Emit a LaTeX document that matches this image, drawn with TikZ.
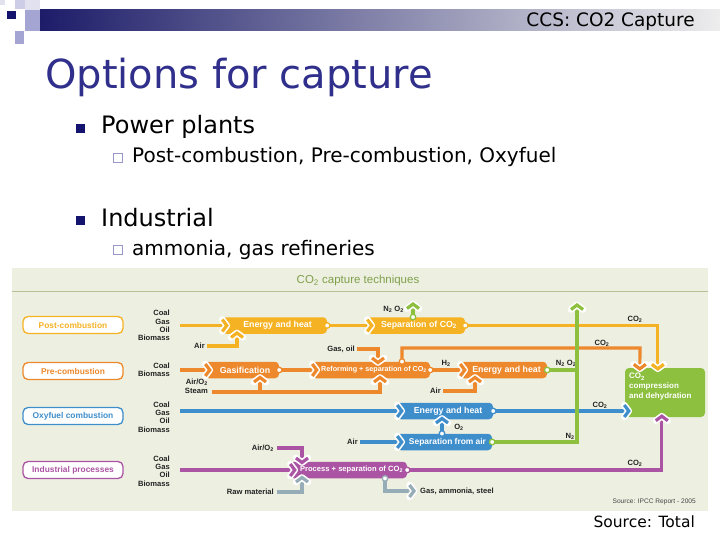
\documentclass[tikz,border=0pt]{standalone}
\usepackage{fontspec}
\setmainfont{DejaVu Sans}
\newfontfamily\dfont{Liberation Sans}
\usetikzlibrary{calc}
\definecolor{cyel}{RGB}{245,178,35}
\definecolor{corg}{RGB}{237,137,44}
\definecolor{cblu}{RGB}{62,142,204}
\definecolor{cpur}{RGB}{172,84,164}
\definecolor{cgrn}{RGB}{141,192,62}
\definecolor{cgry}{RGB}{150,172,182}
\definecolor{dbg}{RGB}{237,240,225}
\definecolor{hdrc}{RGB}{128,160,75}
\definecolor{rulec}{RGB}{185,192,150}
\definecolor{labc}{RGB}{35,35,35}
\definecolor{titlec}{RGB}{48,48,140}
\definecolor{navyb}{RGB}{20,20,110}
\definecolor{subb}{RGB}{150,150,200}
\definecolor{barl}{RGB}{28,28,105}
\definecolor{sqa}{RGB}{205,205,232}
\definecolor{sqb}{RGB}{165,165,212}
\definecolor{sqc}{RGB}{225,225,240}
\newcommand\chev[3]{%
  \begin{scope}[shift={#2},rotate=#3]
    \draw[white,line width=6.5pt,line cap=round,line join=round] (-4.5,-6)--(0,0)--(-4.5,6);
    \draw[#1,line width=3.2pt,line join=miter] (-4.5,-6)--(0,0)--(-4.5,6);
  \end{scope}}
\begin{document}
\begin{tikzpicture}[x=1pt,y=-1pt,
  lbl/.style={font=\dfont\bfseries\fontsize{7.6}{8.3}\selectfont,text=labc,inner sep=0pt},
  optbox/.style={draw=#1,text=#1,fill=white,rounded corners=5pt,line width=1.3pt,minimum width=100pt,minimum height=17pt,inner sep=0pt,font=\dfont\bfseries\fontsize{8.4}{9}\selectfont},
  procbox/.style={fill=#1,text=white,rounded corners=4pt,minimum height=16.5pt,inner sep=0pt,font=\dfont\bfseries\fontsize{8.8}{9}\selectfont,execute at begin node={\hspace*{6pt}}},
  flow/.style={draw=#1,line width=3.2pt},
  port/.style={circle,draw=#1,fill=white,line width=1.3pt,minimum size=5.5pt,inner sep=0pt},
  slide/.style={anchor=base west,inner sep=0pt}]
\useasboundingbox (0,0) rectangle (720,540);
\fill[white] (0,0) rectangle (720,540);
% header decoration
\shade[left color=barl,right color=white!93!black] (40,10) rectangle (720,31);
\fill[sqc] (0,0) rectangle (5,5);
\fill[sqa] (15,0) rectangle (25,9);
\fill[sqc] (25,0) rectangle (40,10);
\fill[sqb] (25,10) rectangle (40,31);
\fill[sqb] (15,31) rectangle (24,44);
\fill[navyb] (7,11) rectangle (16,19);
\node[anchor=base east,inner sep=0pt,font=\fontsize{18.5}{20}\selectfont] (hdr) at (695,27) {CCS: CO2 Capture};
% title and bullets
\node[slide,text=titlec,font=\fontsize{40}{40}\selectfont] (title) at (45,89) {Options for capture};
\fill[navyb] (76,124) rectangle (85,133);
\node[slide,font=\fontsize{24}{26}\selectfont] (b1) at (101,134) {Power plants};
\draw[subb,line width=1pt] (113,153.5) rectangle (122,162.5);
\node[slide,font=\fontsize{20}{22}\selectfont] (b1a) at (132,163) {Post-combustion, Pre-combustion, Oxyfuel};
\fill[navyb] (76,216) rectangle (85,225);
\node[slide,font=\fontsize{24}{26}\selectfont] (b2) at (101,226) {Industrial};
\draw[subb,line width=1pt] (113,245.5) rectangle (122,254.5);
\node[slide,font=\fontsize{20}{22}\selectfont] (b2a) at (132,255) {ammonia, gas refineries};
% diagram background
\fill[dbg] (12,268) rectangle (708,511);
\node[font=\dfont\fontsize{11.5}{12}\selectfont,text=hdrc] (dh) at (358,281) {CO\textsubscript{2} capture techniques};
\draw[rulec,line width=0.8pt] (12,291) -- (708,291);
% option boxes
\node[optbox=cyel] (postc) at (73,325) {Post-combustion};
\node[optbox=corg] (prec) at (73,371) {Pre-combustion};
\node[optbox=cblu] (oxyc) at (73,416) {Oxyfuel combustion};
\node[optbox=cpur] (indc) at (73,470) {Industrial processes};
% fuel labels
\node[lbl,align=right,anchor=east] (fP) at (170,325.5) {Coal\\Gas\\Oil\\Biomass};
\node[lbl,align=right,anchor=east] (fR) at (170,370) {Coal\\Biomass};
\node[lbl,align=right,anchor=east] (fO) at (170,417) {Coal\\Gas\\Oil\\Biomass};
\node[lbl,align=right,anchor=east] (fI) at (170,471) {Coal\\Gas\\Oil\\Biomass};
% process boxes
\node[procbox=cyel,minimum width=105pt] (eh1) at (274.5,325.5) {Energy and heat};
\node[procbox=cyel,minimum width=98pt] (sep1) at (416,325.5) {Separation of CO\textsubscript{2}};
\node[procbox=corg,minimum width=74pt] (gas) at (242,370) {Gasification};
\node[procbox=corg,minimum width=118pt,font=\dfont\bfseries\fontsize{7.2}{9}\selectfont] (ref) at (371,370) {Reforming + separation of CO\textsubscript{2}};
\node[procbox=corg,minimum width=87pt] (eh2) at (503.5,370) {Energy and heat};
\node[procbox=cblu,minimum width=96pt] (eh3) at (445,411) {Energy and heat};
\node[procbox=cblu,minimum width=95pt,font=\dfont\bfseries\fontsize{8.4}{9}\selectfont] (sepair) at (444.5,442) {Separation from air};
\node[procbox=cpur,minimum width=117pt,font=\dfont\bfseries\fontsize{7.6}{9}\selectfont] (proc) at (348.5,470) {Process + separation of CO\textsubscript{2}};
\node[fill=cgrn,rounded corners=4pt,minimum width=80pt,minimum height=49pt,inner sep=0pt] (comp) at (665,392.5) {};
\node[anchor=north west,text=white,align=left,inner sep=0pt,font=\dfont\bfseries\fontsize{8}{10}\selectfont] (compt) at (629,373) {CO\textsubscript{2}\\compression\\and dehydration};
% small labels
\node[lbl,anchor=east] (aP) at (205,346) {Air};
\node[lbl,align=right,anchor=north east] (aR) at (208,379) {Air/O\textsubscript{2}\\Steam};
\coordinate (aRs) at (212,392);
\node[lbl,anchor=east] (go) at (355,349) {Gas, oil};
\node[lbl] (h2) at (446,363) {H\textsubscript{2}};
\node[lbl,anchor=east] (aE2) at (441,391) {Air};
\node[lbl,anchor=east] (n2o2a) at (404,309) {N\textsubscript{2} O\textsubscript{2}};
\node[lbl] (n2o2b) at (566,363) {N\textsubscript{2} O\textsubscript{2}};
\node[lbl] (co2a) at (635,319) {CO\textsubscript{2}};
\node[lbl] (co2b) at (602,343) {CO\textsubscript{2}};
\node[lbl] (co2c) at (600,405) {CO\textsubscript{2}};
\node[lbl] (co2d) at (635,463) {CO\textsubscript{2}};
\node[lbl] (o2) at (459,427) {O\textsubscript{2}};
\node[lbl] (n2) at (570,436) {N\textsubscript{2}};
\node[lbl,anchor=east] (aS) at (358,442) {Air};
\node[lbl,anchor=east] (aI) at (274,448) {Air/O\textsubscript{2}};
\node[lbl,anchor=east] (rm) at (274,492) {Raw material};
\node[lbl,anchor=west] (gas2) at (420,491) {Gas, ammonia, steel};
\node[anchor=east,inner sep=0pt,font=\dfont\fontsize{6.6}{7}\selectfont,text=labc!85] (src1) at (696,502) {Source: IPCC Report - 2005};
\coordinate (oc) at (640,348);
\coordinate (gtop) at (577,305);
\coordinate (gbot) at (577,442);
% post-combustion flows
\draw[flow=cyel] ([xshift=10pt]fP.east) -- (eh1.west);
\draw[flow=cyel] ([xshift=2pt]aP.east) -| ($(eh1.south)+(-37.5,0)$);
\draw[flow=cyel] (eh1.east) -- (sep1.west);
\draw[flow=cyel] (sep1.east) -| ($(comp.north west)+(33,0)$);
\draw[flow=cgrn] ($(sep1.north)+(-3,0)$) -- ++(0,-12);
% pre-combustion flows
\draw[flow=corg] ($(fR.east)+(10,0)$) -- (gas.west);
\draw[flow=corg] (aRs) -| ($(ref.south)+(9,0)$);
\draw[flow=corg] ($(gas.south)+(18,0)$) |- (aRs);
\draw[flow=corg] (gas.east) -- (ref.west);
\draw[flow=corg] ([xshift=2pt]go.east) -| ($(ref.north)+(7,0)$);
\draw[flow=corg] ($(ref.north)+(31,0)$) |- (oc) -- ($(comp.north west)+(15,0)$);
\draw[flow=corg] (ref.east) -- (eh2.west);
\draw[flow=corg] ([xshift=2pt]aE2.east) -| ($(eh2.south)+(-28.5,0)$);
% oxyfuel flows
\draw[flow=cblu] ($(fO.east |- eh3.west)+(10,0)$) -- (eh3.west);
\draw[flow=cblu] (eh3.east) -- (comp.west |- eh3.east);
\draw[flow=cblu] ([xshift=2pt]aS.east) -- (sepair.west);
\draw[flow=cblu] ($(sepair.north)+(-2.5,0)$) -- ($(eh3.south)+(-3,0)$);
% industrial flows
\draw[flow=cpur] ($(fI.east |- proc.west)+(10,0)$) -- (proc.west);
\draw[flow=cpur] (proc.east) -| ($(comp.south west)+(37,0)$);
\draw[flow=cpur] ([xshift=3pt]aI.east) -| ($(proc.north)+(-46.5,0)$);
\draw[flow=cgry] ([xshift=3pt]rm.east) -| ($(proc.south)+(-46.5,0)$);
\draw[flow=cgry] ($(proc.south)+(36.5,0)$) |- ([xshift=-7pt]gas2.west);
% green N2 line
\draw[flow=cgrn] (eh2.east) -- (eh2.east -| gtop);
\draw[flow=cgrn] (sepair.east) -- (gbot) -- (gtop);
% chevrons
\chev{cyel}{($(eh1.west)+(5,0)$)}{0}
\chev{cyel}{($(eh1.south)+(-37.5,-1)$)}{90}
\chev{cyel}{($(sep1.west)+(5,0)$)}{0}
\chev{cgrn}{($(sep1.north)+(-3,-13)$)}{90}
\chev{cyel}{($(comp.north west)+(33,1)$)}{270}
\chev{corg}{($(comp.north west)+(15,1)$)}{270}
\chev{corg}{($(gas.west)+(5,0)$)}{0}
\chev{corg}{($(gas.south)+(18,-1)$)}{90}
\chev{corg}{($(ref.west)+(5,0)$)}{0}
\chev{corg}{($(ref.north)+(7,1)$)}{270}
\chev{corg}{($(ref.south)+(9,-1)$)}{90}
\chev{corg}{($(eh2.west)+(5,0)$)}{0}
\chev{corg}{($(eh2.south)+(-28.5,-1)$)}{90}
\chev{cgrn}{(gtop)}{90}
\chev{cblu}{($(eh3.west)+(5,0)$)}{0}
\chev{cblu}{($(comp.west |- eh3.east)+(4,0)$)}{0}
\chev{cblu}{($(sepair.west)+(5,0)$)}{0}
\chev{cblu}{($(eh3.south)+(-3,-1)$)}{90}
\chev{cpur}{($(proc.west)+(5,0)$)}{0}
\chev{cpur}{($(proc.north)+(-46.5,1)$)}{270}
\chev{cgry}{($(proc.south)+(-46.5,-1)$)}{90}
\chev{cpur}{($(comp.south west)+(37,-1)$)}{90}
\chev{cgry}{($(gas2.west)+(-6,0)$)}{0}
% ports
\node[port=cyel] (p1) at (eh1.east) {};
\node[port=cyel] (p2) at (sep1.east) {};
\node[port=cgrn] (p3) at ($(sep1.north)+(-3,0)$) {};
\node[port=corg] (p4) at (gas.east) {};
\node[port=corg] (p5) at (ref.east) {};
\node[port=corg] (p6) at ($(ref.north)+(31,0)$) {};
\node[port=cgrn] (p7) at (eh2.east) {};
\node[port=cblu] (p8) at (eh3.east) {};
\node[port=cgrn] (p9) at (sepair.east) {};
\node[port=cblu] (p10) at ($(sepair.north)+(-2.5,0)$) {};
\node[port=cpur] (p11) at (proc.east) {};
\node[port=cgry] (p12) at ($(proc.south)+(36.5,0)$) {};
% footer
\node[anchor=base east,inner sep=0pt,font=\fontsize{15.5}{17}\selectfont] (src2) at (695,527) {Source: Total};
\end{tikzpicture}
\end{document}
